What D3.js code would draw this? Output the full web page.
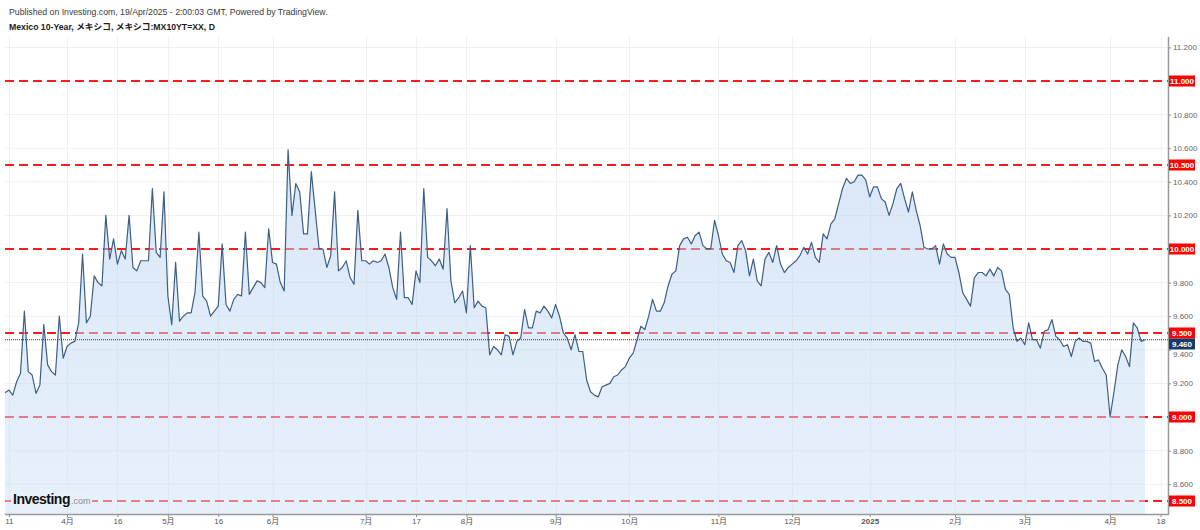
<!DOCTYPE html>
<html>
<head>
<meta charset="utf-8">
<script src="https://cdn.jsdelivr.net/npm/d3@7"></script>
<style>
  html, body { margin: 0; padding: 0; background: #ffffff; }
  svg { display: block; }
  text { font-family: "Liberation Sans", Arial, "Noto Sans CJK JP", sans-serif; }
</style>
</head>
<body>
<svg id="chart" width="1200" height="530"></svg>
<script>
// ---------------- DATA ----------------
const titleLine1 = "Published on Investing.com, 19/Apr/2025 - 2:00:03 GMT, Powered by TradingView.";
const titleLine2 = "Mexico 10-Year, メキシコ, メキシコ:MX10YT=XX, D";

// daily closes (Mexico 10Y yield), one per trading bar, Mar 2024 -> Apr 2025
const yields = [
  9.145, 9.16, 9.13, 9.21, 9.26, 9.63, 9.27, 9.25, 9.14, 9.19,
  9.55, 9.31, 9.27, 9.25, 9.60, 9.35, 9.42, 9.44, 9.45, 9.56,
  9.97, 9.56, 9.60, 9.84, 9.80, 9.78, 10.20, 9.94, 10.06, 9.91,
  9.99, 9.94, 10.20, 9.89, 9.87, 9.93, 9.93, 9.93, 10.36, 9.98,
  9.95, 10.34, 9.72, 9.55, 9.92, 9.57, 9.60, 9.62, 9.62, 9.74,
  10.10, 9.72, 9.69, 9.60, 9.63, 9.66, 10.03, 9.67, 9.63, 9.70,
  9.73, 9.72, 10.10, 9.73, 9.77, 9.81, 9.80, 9.77, 10.12, 9.92,
  9.91, 9.80, 9.75,
  10.59, 10.20, 10.39, 10.34, 10.09, 10.09, 10.46, 10.23, 10.00, 10.00,
  9.89, 9.96, 10.34, 9.87, 9.89, 9.93, 9.83, 9.79, 10.23, 9.93,
  9.93, 9.91, 9.93, 9.92, 9.93, 9.97, 9.89, 9.77, 9.70, 10.10,
  9.71, 9.71, 9.67, 9.87, 9.80, 10.36, 9.95, 9.93, 9.90, 9.94,
  9.88, 10.24, 9.81, 9.68, 9.71, 9.75, 9.62, 10.02, 9.65, 9.69,
  9.66, 9.65, 9.37, 9.42, 9.40, 9.37, 9.49, 9.48, 9.37, 9.45,
  9.47, 9.64, 9.53, 9.53, 9.63, 9.62, 9.66, 9.63, 9.59, 9.67,
  9.60, 9.50, 9.47, 9.40, 9.49, 9.39,
  9.39, 9.22, 9.15, 9.13, 9.12, 9.18, 9.19, 9.20, 9.24, 9.25,
  9.28, 9.30, 9.35, 9.38, 9.46, 9.54, 9.52, 9.60, 9.70, 9.63,
  9.63, 9.68, 9.78, 9.85, 9.87, 10.02, 10.06, 10.07, 10.03, 10.08,
  10.10, 10.02, 10.00, 10.00, 10.17, 10.08, 9.97, 9.93, 9.92, 9.86,
  10.02, 10.05, 9.99, 9.84, 9.94, 9.81, 9.78, 9.94, 9.98, 9.92,
  10.02, 9.91, 9.86, 9.89, 9.91, 9.93, 9.96, 10.01, 9.97, 10.04,
  9.95, 9.92, 10.09, 10.06, 10.15, 10.18, 10.27, 10.36, 10.42, 10.39,
  10.40, 10.44,
  10.44, 10.41, 10.31, 10.37, 10.37, 10.30, 10.28, 10.20, 10.27, 10.36,
  10.39, 10.30, 10.22, 10.34, 10.23, 10.14, 10.01, 10.00, 10.00, 10.02,
  9.91, 10.03, 9.97, 9.95, 9.95, 9.86, 9.74, 9.70, 9.66, 9.83,
  9.86, 9.86, 9.84, 9.88, 9.84, 9.89, 9.87, 9.76, 9.73, 9.53,
  9.45, 9.47, 9.43, 9.56, 9.46, 9.46, 9.41, 9.51, 9.52, 9.58,
  9.48, 9.46, 9.42, 9.43, 9.36, 9.45, 9.47, 9.45, 9.45, 9.44,
  9.33, 9.34, 9.29, 9.25, 9.00, 9.15, 9.31, 9.40, 9.36, 9.30,
  9.56, 9.53, 9.45, 9.46
];

// x-axis ticks: bar index and label
const xTickIdx    = [1, 16, 29, 42, 55, 69, 93, 106, 119, 142, 161, 184, 203, 223, 245, 263, 285, 298];
const xTickLabels = ["11", "4月", "16", "5月", "16", "6月", "7月", "17", "8月", "9月", "10月", "11月", "12月", "2025", "2月", "3月", "4月", "18"];

// y-axis grid and labels
const yGrid   = [8.6, 8.8, 9.0, 9.2, 9.4, 9.6, 9.8, 10.0, 10.2, 10.4, 10.6, 10.8, 11.0, 11.2];
const yLabels = [8.6, 8.8, 9.2, 9.4, 9.6, 9.8, 10.2, 10.4, 10.6, 10.8, 11.2];

// horizontal red levels
const levels = [11.0, 10.5, 10.0, 9.5, 9.0, 8.5];
const lastValue = 9.46;

// ---------------- LAYOUT ----------------
const plotLeft = 5, plotRight = 1168, plotTop = 37, plotBottom = 514;
const dataRight = 1145;

const svg = d3.select("#chart");

const x = d3.scaleLinear().domain([0, yields.length - 1]).range([plotLeft, dataRight]);
const y = d3.scaleLinear().domain([8.5, 11.0]).range([501, 81]);

// gradient for area
const defs = svg.append("defs");
const grad = defs.append("linearGradient").attr("id", "areaGrad")
  .attr("x1", 0).attr("y1", 0).attr("x2", 0).attr("y2", 1);
grad.append("stop").attr("offset", "0%").attr("stop-color", "rgb(182,207,238)").attr("stop-opacity", 0.5);
grad.append("stop").attr("offset", "100%").attr("stop-color", "rgb(206,226,248)").attr("stop-opacity", 0.5);

// header
svg.append("text").attr("x", 9).attr("y", 15)
  .attr("font-size", 8.7).attr("fill", "#3a3a3a").text(titleLine1);
svg.append("text").attr("x", 9).attr("y", 30)
  .attr("font-size", 8.7).attr("font-weight", "bold").attr("fill", "#1a1a1a").text(titleLine2);

// grid
const grid = svg.append("g");
grid.selectAll("line.h").data(yGrid).enter().append("line")
  .attr("x1", plotLeft).attr("x2", plotRight)
  .attr("y1", d => y(d)).attr("y2", d => y(d))
  .attr("stroke", "#f0f0f0").attr("stroke-width", 1);
grid.selectAll("line.v").data(xTickIdx).enter().append("line")
  .attr("x1", d => Math.round(x(d)) + 0.5).attr("x2", d => Math.round(x(d)) + 0.5)
  .attr("y1", plotTop).attr("y2", plotBottom)
  .attr("stroke", "#f0f0f0").attr("stroke-width", 1);

// red levels (under fill)
svg.append("g").selectAll("line").data(levels).enter().append("line")
  .attr("x1", plotLeft).attr("x2", plotRight)
  .attr("y1", d => y(d)).attr("y2", d => y(d))
  .attr("stroke", "#ff1a1a").attr("stroke-width", 2)
  .attr("stroke-dasharray", "9,5");

// area + line
const area = d3.area().x((d, i) => x(i)).y0(plotBottom).y1(d => y(d));
svg.append("path").datum(yields).attr("d", area).attr("fill", "url(#areaGrad)");

const line = d3.line().x((d, i) => x(i)).y(d => y(d));
svg.append("path").datum(yields).attr("d", line)
  .attr("fill", "none").attr("stroke", "#3b5f86").attr("stroke-width", 1.2)
  .attr("stroke-linejoin", "round");

// current value dotted line
svg.append("line")
  .attr("x1", plotLeft).attr("x2", plotRight)
  .attr("y1", y(lastValue)).attr("y2", y(lastValue))
  .attr("stroke", "#1f3f66").attr("stroke-width", 1).attr("stroke-dasharray", "1,1");

// Investing.com logo
const logo = svg.append("g");
logo.append("rect").attr("x", 11).attr("y", 492).attr("width", 81).attr("height", 15).attr("fill", "#e8f1fb");
const logoText = logo.append("text").attr("x", 13).attr("y", 504);
logoText.append("tspan").attr("font-size", 14).attr("font-weight", "bold").attr("fill", "#111").attr("letter-spacing", -0.5).text("Investing");
logoText.append("tspan").attr("font-size", 9).attr("fill", "#8a8a8a").attr("dx", 1).text(".com");

// x axis
const xAxis = d3.axisBottom(x).tickValues(xTickIdx).tickSize(3).tickFormat((d, i) => xTickLabels[i]);
const gx = svg.append("g").attr("transform", `translate(0,${plotBottom})`).call(xAxis);
gx.select(".domain").remove();
gx.selectAll(".tick line").attr("stroke", "#888");
gx.selectAll(".tick text").attr("font-size", 8).attr("fill", "#555").attr("dy", "0.55em")
  .attr("font-weight", (d, i) => xTickLabels[i] === "2025" ? "bold" : "normal");
svg.append("line").attr("x1", plotLeft).attr("x2", plotRight)
  .attr("y1", plotBottom + 0.5).attr("y2", plotBottom + 0.5).attr("stroke", "#999").attr("stroke-width", 1.5);

// last value label position, pushed below the nearest level label to avoid overlap
const nearLevel = levels.reduce((a, b) => Math.abs(b - lastValue) < Math.abs(a - lastValue) ? b : a);
const lastY = Math.max(y(lastValue), y(nearLevel) + 11);

// right axis
svg.append("rect").attr("x", plotRight).attr("y", plotTop).attr("width", 1200 - plotRight).attr("height", plotBottom - plotTop + 16).attr("fill", "#fff");
const yAxis = d3.axisRight(y).tickValues(yLabels).tickSize(3).tickFormat(d3.format(".3f"));
const gy = svg.append("g").attr("transform", `translate(${plotRight},0)`).call(yAxis);
gy.select(".domain").remove();
gy.selectAll(".tick line").attr("stroke", "#888");
gy.selectAll(".tick text").attr("font-size", 8).attr("fill", "#666").attr("x", 5)
  .attr("dy", d => {
    // nudge a tick label that sits under the last-value box
    const gap = y(d) - lastY;
    return (gap > -9 && gap < 9.5) ? (gap >= 0 ? "0.32em" : "0.32em") : "0.32em";
  })
  .attr("transform", d => {
    const gap = y(d) - lastY;
    if (Math.abs(gap) < 9.5) return `translate(0,${(gap >= 0 ? 9.5 - gap : -(9.5 + gap))})`;
    return null;
  });
svg.append("line").attr("x1", plotRight + 0.5).attr("x2", plotRight + 0.5)
  .attr("y1", plotTop).attr("y2", plotBottom + 1).attr("stroke", "#999").attr("stroke-width", 1.5);

// red level labels
const lv = svg.append("g").selectAll("g").data(levels).enter().append("g");
lv.append("rect").attr("x", plotRight + 1).attr("y", d => y(d) - 5.5).attr("width", 26).attr("height", 11).attr("fill", "#ff0000");
lv.append("text").attr("x", plotRight + 14).attr("y", d => y(d) + 3)
  .attr("text-anchor", "middle").attr("font-size", 8).attr("font-weight", "bold").attr("fill", "#fff")
  .text(d => d3.format(".3f")(d));

// last value label
const lg = svg.append("g");
lg.append("rect").attr("x", plotRight + 1).attr("y", lastY - 5.5).attr("width", 26).attr("height", 11).attr("fill", "#173b65");
lg.append("text").attr("x", plotRight + 14).attr("y", lastY + 3)
  .attr("text-anchor", "middle").attr("font-size", 8).attr("font-weight", "bold").attr("fill", "#fff")
  .text(d3.format(".3f")(lastValue));
</script>
</body>
</html>
